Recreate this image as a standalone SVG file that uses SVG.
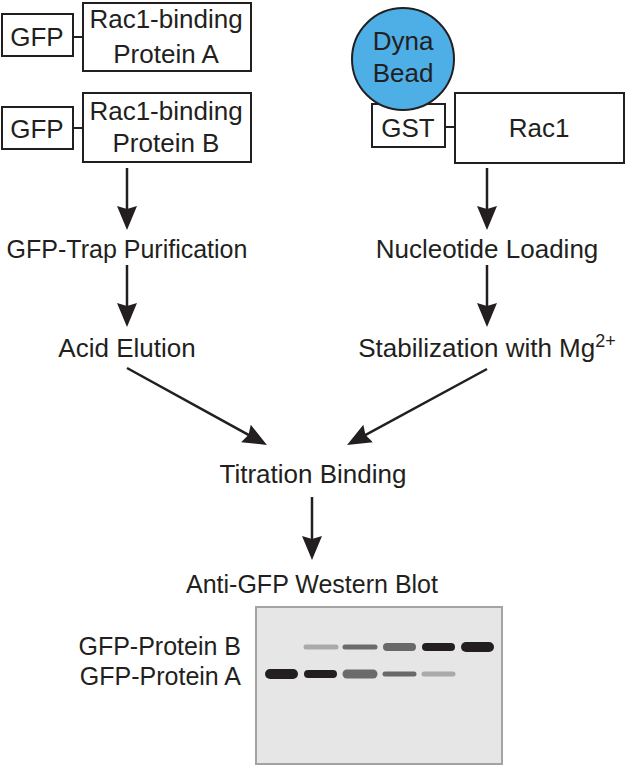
<svg xmlns="http://www.w3.org/2000/svg" width="626" height="766" viewBox="0 0 626 766">
<defs>
<marker id="ah" markerUnits="userSpaceOnUse" markerWidth="24" markerHeight="22" viewBox="0 0 24 22" refX="18" refY="11" orient="auto">
<path d="M0,1 L24,11 L0,21 L3,11 z" fill="#231f20"/>
</marker>
</defs>
<style>
text{font-family:"Liberation Sans",Arial,sans-serif;font-size:25px;fill:#231f20}
.c{text-anchor:middle}
.b{font-size:26px}
.box{fill:#fff;stroke:#231f20;stroke-width:2}
.ln{stroke:#231f20;stroke-width:2}
.arr{stroke:#231f20;stroke-width:2.5;fill:none;marker-end:url(#ah)}
</style>
<rect width="626" height="766" fill="#fff"/>

<g id="connectors">
<line class="ln" x1="73" y1="37" x2="83" y2="37"/>
<line class="ln" x1="73" y1="128" x2="83" y2="128"/>
<line class="ln" x1="445" y1="127" x2="455" y2="127"/>
<line class="arr" x1="127" y1="168" x2="127" y2="224"/>
<line class="arr" x1="127" y1="265" x2="127" y2="321"/>
<line class="arr" x1="487" y1="168" x2="487" y2="224"/>
<line class="arr" x1="487" y1="265" x2="487" y2="321"/>
<line class="arr" x1="127" y1="368" x2="261.7" y2="442.1"/>
<line class="arr" x1="487" y1="369" x2="352.3" y2="442.1"/>
<line class="arr" x1="312" y1="497" x2="312" y2="554"/>
</g>

<g id="gfpA">
<rect class="box" x="2" y="14" width="71" height="42"/>
<text class="c b" x="37" y="46">GFP</text>
</g>
<g id="rac1bpA">
<rect class="box" x="83" y="3" width="168" height="68"/>
<text class="c b" x="166" y="28">Rac1-binding</text>
<text class="c b" x="166" y="63">Protein A</text>
</g>
<g id="gfpB">
<rect class="box" x="2" y="107" width="71" height="42"/>
<text class="c b" x="37" y="138">GFP</text>
</g>
<g id="rac1bpB">
<rect class="box" x="83" y="93" width="168" height="69"/>
<text class="c b" x="166" y="120">Rac1-binding</text>
<text class="c b" x="166" y="152">Protein B</text>
</g>
<g id="gst">
<rect class="box" x="372" y="104" width="73" height="43"/>
<text class="c b" x="408" y="137">GST</text>
</g>
<g id="dynabead">
<circle cx="403" cy="59" r="51" fill="#4eaee6" stroke="#231f20" stroke-width="2"/>
<text class="c b" x="403" y="50">Dyna</text>
<text class="c b" x="403" y="82">Bead</text>
</g>
<g id="rac1">
<rect class="box" x="455" y="93" width="169" height="70"/>
<text class="c b" x="539" y="137">Rac1</text>
</g>

<g id="gfptrap"><text class="c" x="127" y="258">GFP-Trap Purification</text></g>
<g id="acidelution"><text class="c b" x="127" y="357">Acid Elution</text></g>
<g id="nucleotide"><text class="c b" x="487" y="258">Nucleotide Loading</text></g>
<g id="stabilization"><text class="c b" x="487" y="357">Stabilization with Mg<tspan font-size="18" dy="-10">2+</tspan></text></g>
<g id="titration"><text class="c b" x="313" y="483">Titration Binding</text></g>
<g id="western"><text class="c" x="312" y="593">Anti-GFP Western Blot</text></g>

<g id="blot">
<rect x="256" y="607" width="246" height="157" fill="#e6e6e6" stroke="#a3a3a3" stroke-width="2"/>
<g stroke-linecap="round">
<line x1="306" y1="647" x2="336" y2="647" stroke="#aaaaaa" stroke-width="5"/>
<line x1="345" y1="647" x2="375" y2="647" stroke="#6b6b6b" stroke-width="5"/>
<line x1="387" y1="647" x2="412" y2="647" stroke="#696969" stroke-width="8"/>
<line x1="426" y1="647" x2="451" y2="647" stroke="#231f20" stroke-width="8"/>
<line x1="466" y1="647" x2="489" y2="647" stroke="#231f20" stroke-width="10"/>
<line x1="270" y1="674" x2="293" y2="674" stroke="#231f20" stroke-width="10"/>
<line x1="308" y1="674" x2="333" y2="674" stroke="#231f20" stroke-width="8"/>
<line x1="347" y1="674" x2="373" y2="674" stroke="#6b6b6b" stroke-width="9"/>
<line x1="385" y1="674" x2="414" y2="674" stroke="#696969" stroke-width="5"/>
<line x1="424" y1="674" x2="453" y2="674" stroke="#aaaaaa" stroke-width="5"/>
</g>
</g>
<g id="labelB"><text x="241" y="655" text-anchor="end">GFP-Protein B</text></g>
<g id="labelA"><text x="241" y="685" text-anchor="end">GFP-Protein A</text></g>
</svg>
